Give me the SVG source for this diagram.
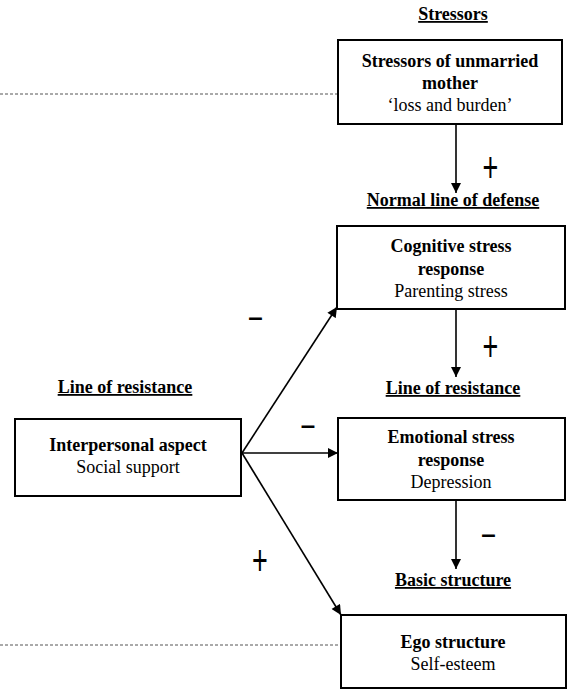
<svg xmlns="http://www.w3.org/2000/svg" width="567" height="690" viewBox="0 0 567 690">
<defs>
<marker id="ah" viewBox="0 0 10 10" refX="10" refY="5" markerWidth="11" markerHeight="10" markerUnits="userSpaceOnUse" orient="auto">
<path d="M0,0 L10,5 L0,10 z" fill="#000"/>
</marker>
<style>
.box{fill:#fff;stroke:#000;stroke-width:2}
text{font-family:'Liberation Serif','DejaVu Serif','Times New Roman',serif;fill:#000;text-anchor:middle}
.b{font-weight:bold;font-size:18px}
.n{font-size:18px}
.h{font-weight:bold;font-size:18px;text-decoration:underline}
.p{font-family:'Liberation Sans','DejaVu Sans',sans-serif;font-size:27px}
.m{font-family:'Liberation Sans','DejaVu Sans',sans-serif;font-size:26px;font-weight:bold}
.c{stroke:#000;stroke-width:1.6;fill:none}
.d{stroke:#555;stroke-width:1;stroke-dasharray:3,2;fill:none}
</style>
</defs>
<g id="headings">
<text class="h" x="453" y="20">Stressors</text>
<text class="h" x="453" y="206">Normal line of defense</text>
<text class="h" x="453" y="394">Line of resistance</text>
<text class="h" x="453" y="586">Basic structure</text>
<text class="h" x="125" y="393">Line of resistance</text>
</g>
<g id="dashes">
<line class="d" x1="0" y1="94" x2="338" y2="94"/>
<line class="d" x1="0" y1="645" x2="341" y2="645"/>
</g>
<g id="connectors">
<line class="c" x1="456" y1="125" x2="456" y2="193" marker-end="url(#ah)"/>
<line class="c" x1="456" y1="310" x2="456" y2="377" marker-end="url(#ah)"/>
<line class="c" x1="456" y1="501" x2="456" y2="569" marker-end="url(#ah)"/>
<line class="c" x1="242" y1="453" x2="337" y2="307" marker-end="url(#ah)"/>
<line class="c" x1="242" y1="453" x2="338" y2="453" marker-end="url(#ah)"/>
<line class="c" x1="242" y1="453" x2="341" y2="615" marker-end="url(#ah)"/>
<text class="p" transform="translate(490.5,181.5) scale(1,1.6)">+</text>
<text class="p" transform="translate(490.5,360.5) scale(1,1.6)">+</text>
<text class="p" transform="translate(260,575) scale(1,1.6)">+</text>
<text class="m" x="255.5" y="325.5">–</text>
<text class="m" x="308" y="434">–</text>
<text class="m" x="488.5" y="542.5">–</text>
</g>
<g id="stressors">
<rect class="box" x="338" y="40" width="224" height="84"/>
<text class="b" x="450" y="67">Stressors of unmarried</text>
<text class="b" x="450" y="89">mother</text>
<text class="n" x="450" y="111">‘loss and burden’</text>
</g>
<g id="cognitive">
<rect class="box" x="337" y="226" width="228" height="83"/>
<text class="b" x="451" y="252">Cognitive stress</text>
<text class="b" x="451" y="275">response</text>
<text class="n" x="451" y="297">Parenting stress</text>
</g>
<g id="emotional">
<rect class="box" x="338" y="418" width="227" height="82"/>
<text class="b" x="451" y="443">Emotional stress</text>
<text class="b" x="451" y="466">response</text>
<text class="n" x="451" y="488">Depression</text>
</g>
<g id="interpersonal">
<rect class="box" x="15" y="419" width="226" height="77"/>
<text class="b" x="128" y="451">Interpersonal aspect</text>
<text class="n" x="128" y="473">Social support</text>
</g>
<g id="ego">
<rect class="box" x="341" y="615" width="225" height="73"/>
<text class="b" x="453" y="648">Ego structure</text>
<text class="n" x="453" y="670">Self-esteem</text>
</g>
</svg>
